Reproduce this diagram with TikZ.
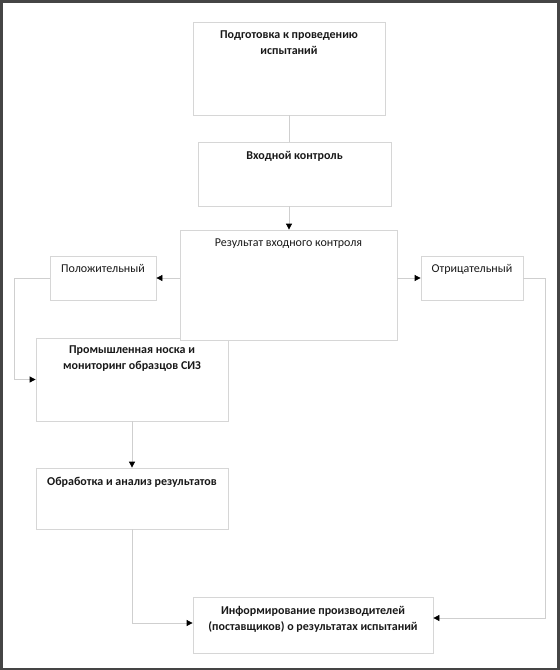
\documentclass[tikz,border=0pt]{standalone}
\usepackage{fontspec}
\setmainfont{Carlito}
\usetikzlibrary{arrows.meta}
\definecolor{boxgray}{HTML}{D6D6D6}
\definecolor{linegray}{HTML}{CFCFCF}
\definecolor{framegray}{HTML}{454545}
\tikzset{
  x=1pt, y=-1pt,
  box/.style={draw=boxgray, line width=0.8pt, fill=white, rectangle, inner sep=0pt},
  lbl/.style={anchor=north, align=center, inner sep=0pt, font=\fontsize{12}{16}\selectfont, text=black!90},
  blbl/.style={lbl, font=\fontsize{12}{16}\selectfont\bfseries},
  conn/.style={draw=linegray, line width=0.8pt},
  arr/.style={conn, -{Triangle[length=6pt, width=6pt, color=black]}},
}
\begin{document}
\begin{tikzpicture}
\useasboundingbox (0,0) rectangle (560,670);
\fill[framegray] (0,0) rectangle (560,670);
\fill[white] (2.5,2.5) rectangle (557,667.5);

\node[box, minimum width=192pt, minimum height=93pt,
  label={[blbl, yshift=-9pt]north:Подготовка к проведению\\испытаний}] (b1) at (289,68.5) {};
\node[box, minimum width=193pt, minimum height=64pt,
  label={[blbl, yshift=-10pt]north:Входной контроль}] (b2) at (294.5,174) {};
\node[box, minimum width=192pt, minimum height=83pt,
  label={[blbl, yshift=-8pt]north:Промышленная носка и\\мониторинг образцов СИЗ}] (b4) at (132,379.5) {};
\node[box, minimum width=217pt, minimum height=110pt,
  label={[lbl, yshift=-8.5pt]north:Результат входного контроля}] (b3) at (288.5,285) {};
\node[box, minimum width=106pt, minimum height=44pt,
  label={[lbl, yshift=-9pt]north:Положительный}] (pos) at (103,278) {};
\node[box, minimum width=102pt, minimum height=44pt,
  label={[lbl, yshift=-9pt]north:Отрицательный}] (neg) at (472,278) {};
\node[box, minimum width=192pt, minimum height=61pt,
  label={[blbl, yshift=-9pt]north:Обработка и анализ результатов}] (b5) at (132,498.5) {};
\node[box, minimum width=240pt, minimum height=56pt,
  label={[blbl, yshift=-10pt]north:Информирование производителей\\(поставщиков) о результатах испытаний}] (b6) at (313,625) {};

\draw[conn] (b1.south) -- (b1.south |- b2.north);
\draw[arr] (b1.south |- b2.south) -- (b1.south |- b3.north);
\draw[arr] (pos.east -| b3.west) -- (pos.east);
\draw[arr] (neg.west -| b3.east) -- (neg.west);
\coordinate (nr) at (545,278);
\draw[arr] (neg.east) -- (nr) |- ([yshift=7pt]b6.east);
\coordinate (pl) at (14,278);
\draw[arr] (pos.west) -- (pl) |- (b4.west);
\draw[arr] (b4.south) -- (b5.north);
\draw[arr] (b5.south) |- ([yshift=2pt]b6.west);
\end{tikzpicture}
\end{document}
